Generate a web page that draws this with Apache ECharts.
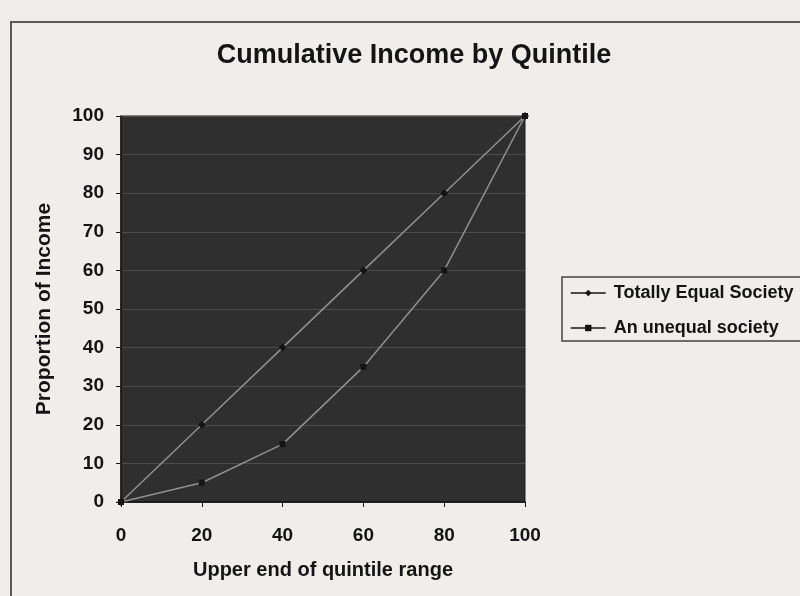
<!DOCTYPE html>
<html>
<head>
<meta charset="utf-8">
<script src="https://cdn.jsdelivr.net/npm/echarts@6/dist/echarts.min.js"></script>
<style>
  html, body { margin: 0; padding: 0; background: #efeeeb; }
  #chart { width: 800px; height: 596px; }
</style>
</head>
<body>
<div id="chart"></div>
<script>
// Cumulative share of income held by each quintile (upper end of range, %)
const quintiles = [0, 20, 40, 60, 80, 100];
const equalSociety = [0, 20, 40, 60, 80, 100];
const unequalSociety = [0, 5, 15, 35, 60, 100];
const seriesNames = ['Totally Equal Society', 'An unequal society'];
const xTicks = [0, 20, 40, 60, 80, 100];
const yTicks = [0, 10, 20, 30, 40, 50, 60, 70, 80, 90, 100];

const FONT = '"Liberation Sans", Arial, sans-serif';
const INK = '#141414';

const chart = echarts.init(document.getElementById('chart'), null, { renderer: 'canvas' });

const pairs = (xs, ys) => xs.map((x, i) => [x, ys[i]]);

chart.setOption({
  backgroundColor: '#efeeeb',
  animation: false,
  title: {
    text: 'Cumulative Income by Quintile',
    left: 409,
    top: 37,
    textAlign: 'center',
    textStyle: { fontFamily: FONT, fontSize: 27, fontWeight: 'bold', color: INK }
  },
  legend: {
    orient: 'vertical',
    left: 562,
    top: 277,
    itemGap: 17,
    itemWidth: 35,
    itemHeight: 8,
    padding: [7, 40, 4, 8],
    borderColor: '#444',
    borderWidth: 1.5,
    backgroundColor: '#efeeeb',
    textStyle: { fontFamily: FONT, fontSize: 18, fontWeight: 'bold', color: INK, padding: [0, 0, 0, 3] },
    lineStyle: { color: INK, width: 1.5 },
    itemStyle: { color: INK },
    data: seriesNames
  },
  grid: {
    left: 121, right: 275, top: 116, bottom: 94,
    show: true, backgroundColor: '#2f2f2f', borderColor: '#1a1a1a', borderWidth: 1
  },
  xAxis: {
    type: 'value',
    min: 0, max: 100, interval: 20,
    name: 'Upper end of quintile range',
    nameLocation: 'middle',
    nameGap: 58,
    nameTextStyle: { fontFamily: FONT, fontSize: 20, fontWeight: 'bold', color: INK },
    axisLine: { show: true, lineStyle: { color: INK, width: 1.5 } },
    axisTick: { show: true, length: 5, lineStyle: { color: INK } },
    axisLabel: { fontFamily: FONT, fontSize: 19, fontWeight: 'bold', color: INK, margin: 24,
      formatter: v => xTicks.includes(v) ? String(v) : '' },
    splitLine: { show: false }
  },
  yAxis: {
    type: 'value',
    min: 0, max: 100, interval: 10,
    name: 'Proportion of Income',
    nameLocation: 'middle',
    nameGap: 66,
    nameTextStyle: { fontFamily: FONT, fontSize: 21, fontWeight: 'bold', color: INK },
    axisLine: { show: true, lineStyle: { color: INK, width: 1.5 } },
    axisTick: { show: true, length: 5, lineStyle: { color: INK } },
    axisLabel: { fontFamily: FONT, fontSize: 19, fontWeight: 'bold', color: INK, margin: 17,
      formatter: v => yTicks.includes(v) ? String(v) : '' },
    splitLine: { show: true, lineStyle: { color: '#4c4c4c', width: 1 } }
  },
  series: [
    {
      name: seriesNames[0],
      type: 'line',
      data: pairs(quintiles, equalSociety),
      symbol: 'diamond',
      symbolSize: 8,
      lineStyle: { color: '#909090', width: 1.5 },
      itemStyle: { color: INK }
    },
    {
      name: seriesNames[1],
      type: 'line',
      data: pairs(quintiles, unequalSociety),
      symbol: 'rect',
      symbolSize: 6,
      lineStyle: { color: '#909090', width: 1.5 },
      itemStyle: { color: INK }
    }
  ],
  graphic: [
    {
      type: 'rect',
      silent: true,
      z: -1,
      shape: { x: 11, y: 22, width: 800, height: 600 },
      style: { fill: 'none', stroke: '#5a5a5a', lineWidth: 2 }
    }
  ]
});
</script>
</body>
</html>
